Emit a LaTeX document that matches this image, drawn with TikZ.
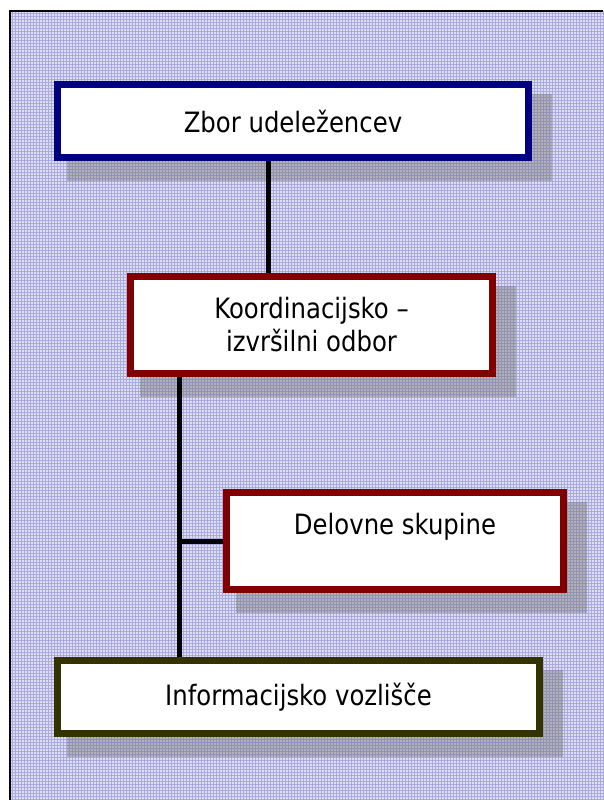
\documentclass[tikz,border=0pt]{standalone}
\usepackage{fontspec}
\setmainfont[FakeStretch=0.87]{DejaVu Sans}
\usetikzlibrary{backgrounds,calc}
\definecolor{navyc}{RGB}{0,0,128}
\definecolor{maroonc}{RGB}{128,0,0}
\definecolor{olivec}{RGB}{51,51,0}
\definecolor{bgfill}{RGB}{222,222,242}
\definecolor{gridc}{RGB}{170,170,222}
\definecolor{shadowc}{RGB}{120,120,120}
\tikzset{
  box/.style={draw, line width=7pt, fill=white, rectangle, inner sep=0pt,
    font=\fontsize{28}{33}\selectfont, align=center},
  conn/.style={line width=5pt, black},
  shadowbox/.style={fill=shadowc, opacity=0.45},
}
\begin{document}
\begin{tikzpicture}[x=1pt,y=-1pt]
\useasboundingbox (0,0) rectangle (603,800);
% nodes
\node[box, draw=navyc, minimum width=471pt, minimum height=73pt] (zbor) at (293,121) {Zbor udeležencev};
\node[box, draw=maroonc, minimum width=362pt, minimum height=97pt] (koord) at (311.5,325) {Koordinacijsko –\\izvršilni odbor};
\node[box, draw=maroonc, minimum width=337pt, minimum height=97pt] (delo) at (395,541) {};
\node[font=\fontsize{28}{33}\selectfont, anchor=center] (delotext) at ($(delo.center)+(0,-14)$) {Delovne skupine};
\node[box, draw=olivec, minimum width=482pt, minimum height=73pt] (info) at (298.5,697) {Informacijsko vozlišče};
% connectors
\coordinate (c1) at (268,0);
\coordinate (c2) at (179,0);
\draw[conn] (zbor.south -| c1) -- (koord.north -| c1);
\draw[conn] (koord.south -| c2) -- (info.north -| c2);
\draw[conn] (delo.west -| c2) -- (delo.west);
% background, frame and shadows
\begin{scope}[on background layer]
  \fill[white] (0,0) rectangle (603,800);
  \fill[bgfill] (10,11) rectangle (603,800);
  \foreach \i in {0,...,197} {
    \draw[gridc, line width=0.7pt] ({12+3*\i},11) -- ({12+3*\i},800);
  }
  \foreach \j in {0,...,263} {
    \draw[gridc, line width=0.7pt] (10,{13+3*\j}) -- (603,{13+3*\j});
  }
  \draw[black, line width=2pt] (10,800) -- (10,11) -- (603,11);
  \foreach \n in {zbor,koord,delo,info} {
    \fill[shadowbox] ($(\n.north west)+(12.5,12.5)$) rectangle ($(\n.south east)+(19.5,19.5)$);
  }
\end{scope}
\end{tikzpicture}
\end{document}
